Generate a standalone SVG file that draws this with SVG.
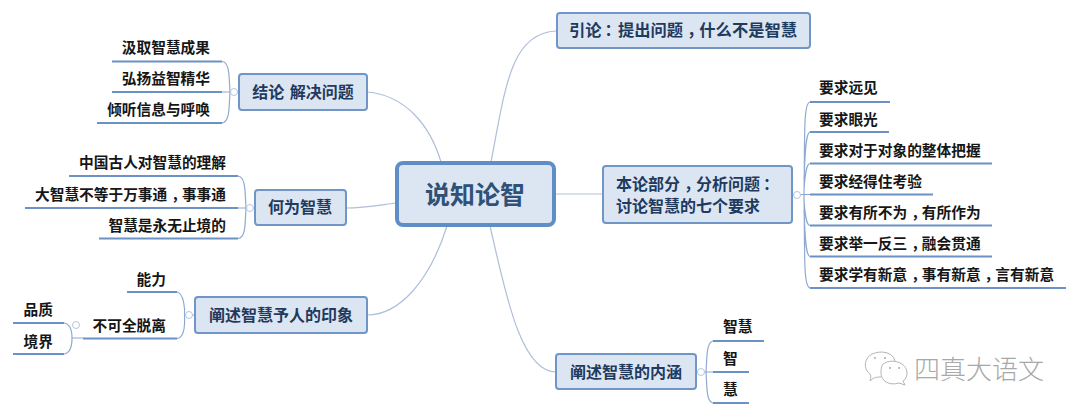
<svg xmlns="http://www.w3.org/2000/svg" width="1080" height="416" viewBox="0 0 1080 416">
<style>
text{font-family:"Noto Sans CJK SC","Noto Sans CJK TC",sans-serif;font-weight:700}
.n rect{fill:#dce6f2;stroke:#6f96c6;stroke-width:2}
.n text{fill:#1f3a5f;font-size:16px}
.l text{fill:#161616;font-size:14.700px}
.l path{fill:none;stroke:#6a92c4;stroke-width:2.2}
.b{fill:none;stroke:#8faad0;stroke-width:1.2}
.c{fill:none;stroke:#aebfd8;stroke-width:1.2}
.o{fill:#fff;stroke:#b4c6de;stroke-width:1}
.w{fill:none;stroke:#b5b5b5;stroke-width:1}
.k{letter-spacing:-4px}
.q{letter-spacing:-3px}
</style>
<rect width="1080" height="416" fill="#fff"/>
<g id="connectors">
<path class="c" d="M367 92C405 95 430 125 441 162"/>
<path class="c" d="M346 208C365 208 380 205 396 203"/>
<path class="c" d="M367 315C400 315 430 280 447 226"/>
<path class="c" d="M556 31C510 33 505 90 491 162"/>
<path class="c" d="M555 194H603"/>
<path class="c" d="M490 226C505 290 520 372 556 372"/>
<path class="b" d="M222 61.500C230 62 229 78 230 92C229 106 230 122 222 123M222 92H239"/>
<path class="b" d="M238 176C246 177 245 193 246 208C245 223 246 238 238 238.500M238 208H255"/>
<path class="b" d="M177 292C184 293 185 310 184.500 315C185 325 184 338 177 338.500M184 315H195"/>
<path class="b" d="M64 323C71 324 72 332 72 338C72 345 71 353 64 354M72 338H83"/>
<path class="b" d="M810 102C803 103 805 140 804 195C805 250 803 287 810 288M810 132C805 133 805 160 804 180M810 163.500C806 164 805 175 804 190M810 225.500C806 225 805 215 804 200M810 256.500C805 256 805 230 804 210M792 194.500H810"/>
<path class="b" d="M713 341C706 342 707 360 706 372C707 385 706 402 713 403M696 372H713"/>
</g>
<g id="root" class="n"><rect x="397" y="163" width="157" height="62" rx="6" style="stroke-width:4;stroke:#5f8ec6"/><text x="475" y="204" text-anchor="middle" style="font-size:25px;fill:#2f5178">说知论智</text></g>
<g id="intro" class="n"><rect x="557" y="13" width="253" height="35" rx="3"/><text x="569" y="36" style="font-size:16.300px">引论<tspan dx="3" class="q">：</tspan>提出问题<tspan dx="4" class="k">，</tspan>什么不是智慧</text></g>
<g id="body" class="n"><rect x="603" y="166" width="189" height="57" rx="3"/><text x="616" y="190">本论部分<tspan dx="4" class="k">，</tspan>分析问题<tspan dx="3">：</tspan></text><text x="616" y="212">讨论智慧的七个要求</text><circle class="o" cx="797" cy="195" r="3.500"/></g>
<g id="concl" class="n"><rect x="239" y="74" width="128" height="36" rx="3"/><text x="303" y="98" text-anchor="middle" word-spacing="2">结论 解决问题</text><circle class="o" cx="234" cy="92" r="3.500"/></g>
<g id="what" class="n"><rect x="255" y="190" width="91" height="35" rx="3"/><text x="300" y="213" text-anchor="middle">何为智慧</text><circle class="o" cx="250" cy="208" r="3.500"/></g>
<g id="impress" class="n"><rect x="195" y="297" width="172" height="36" rx="3"/><text x="281" y="321" text-anchor="middle">阐述智慧予人的印象</text><circle class="o" cx="189" cy="315" r="3.500"/></g>
<g id="mean" class="n"><rect x="556" y="354" width="140" height="35" rx="3"/><text x="626" y="378" text-anchor="middle">阐述智慧的内涵</text><circle class="o" cx="701" cy="372" r="3.500"/></g>
<g id="leaf1" class="l"><path d="M112 61.500H222"/><text x="210" y="53" text-anchor="end">汲取智慧成果</text></g>
<g id="leaf2" class="l"><path d="M112 92H222"/><text x="210" y="84" text-anchor="end">弘扬益智精华</text></g>
<g id="leaf3" class="l"><path d="M97 123H222"/><text x="210" y="115" text-anchor="end">倾听信息与呼唤</text></g>
<g id="leaf4" class="l"><path d="M69 176H238"/><text x="226" y="168" text-anchor="end">中国古人对智慧的理解</text></g>
<g id="leaf5" class="l"><path d="M25 208H238"/><text x="226" y="200" text-anchor="end">大智慧不等于万事通<tspan dx="4" class="k">，</tspan>事事通</text></g>
<g id="leaf6" class="l"><path d="M99 238.500H238"/><text x="226" y="231" text-anchor="end">智慧是永无止境的</text></g>
<g id="leaf7" class="l"><path d="M127 292H177"/><text x="166" y="285" text-anchor="end">能力</text></g>
<g id="leaf8" class="l"><path d="M83 338.500H177"/><text x="166" y="331" text-anchor="end">不可全脱离</text><circle class="o" cx="76" cy="325" r="3.500"/></g>
<g id="leaf9" class="l"><path d="M13 323H64"/><text x="53" y="315" text-anchor="end">品质</text></g>
<g id="leaf10" class="l"><path d="M13 354H64"/><text x="53" y="347" text-anchor="end">境界</text></g>
<g id="r1" class="l"><path d="M810 102H890"/><text x="819" y="93">要求远见</text></g>
<g id="r2" class="l"><path d="M810 132H889"/><text x="819" y="125">要求眼光</text></g>
<g id="r3" class="l"><path d="M810 163.500H992"/><text x="819" y="156">要求对于对象的整体把握</text></g>
<g id="r4" class="l"><path d="M810 194.500H933"/><text x="819" y="187">要求经得住考验</text></g>
<g id="r5" class="l"><path d="M810 225.500H992"/><text x="819" y="218">要求有所不为<tspan dx="4" class="k">，</tspan>有所作为</text></g>
<g id="r6" class="l"><path d="M810 256.500H992"/><text x="819" y="249">要求举一反三<tspan dx="4" class="k">，</tspan>融会贯通</text></g>
<g id="r7" class="l"><path d="M810 288H1066"/><text x="819" y="280">要求学有新意<tspan dx="4" class="k">，</tspan>事有新意<tspan dx="4" class="k">，</tspan>言有新意</text></g>
<g id="m1" class="l"><path d="M713 341H764"/><text x="723" y="332">智慧</text></g>
<g id="m2" class="l"><path d="M713 372H749"/><text x="723" y="364">智</text></g>
<g id="m3" class="l"><path d="M713 403H749"/><text x="723" y="395">慧</text></g>
<g id="watermark"><path class="w" d="M881 377C875 377 873 378 870 381C871 377 871 375 870 374C863 369 864 358 872 354C881 350 893 352 895 361"/><path class="w" d="M883 364C891 358 907 362 907 373C907 377 905 380 903 381L905 385L899 383C889 386 881 381 881 373C881 369 881 367 883 364Z"/><circle cx="875" cy="358" r="1" fill="#aaa"/><circle cx="885" cy="358" r="1" fill="#aaa"/><circle cx="890" cy="368" r="1" fill="#aaa"/><circle cx="899" cy="368" r="1" fill="#aaa"/><text x="914" y="379" style="font-size:26px;font-weight:300;fill:#a8a8a8">四真大语文</text></g>
</svg>
